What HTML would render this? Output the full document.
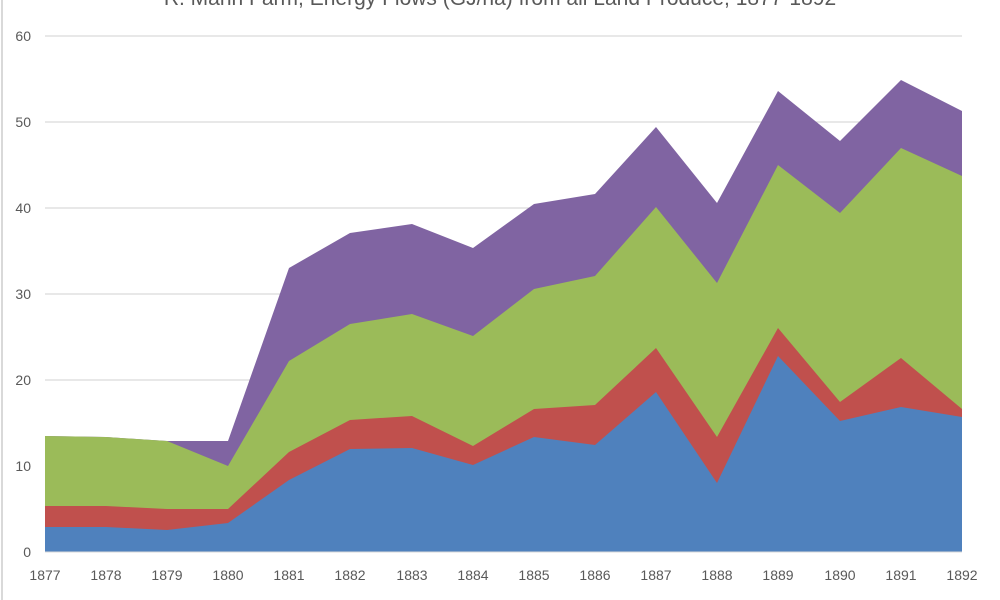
<!DOCTYPE html>
<html><head><meta charset="utf-8"><style>
body{margin:0;background:#fff;}
svg{display:block;font-family:"Liberation Sans",sans-serif;}
</style></head><body>
<svg width="1000" height="600" viewBox="0 0 1000 600">
<rect x="0" y="0" width="1000" height="600" fill="#fff"/>
<line x1="2" y1="0" x2="2" y2="600" stroke="#d9d9d9" stroke-width="2"/>
<text x="500" y="5" font-size="21" fill="#595959" text-anchor="middle">R. Mahn Farm, Energy Flows (GJ/ha) from all Land Produce, 1877-1892</text>
<g stroke="#d0d0d0" stroke-width="1">
<line x1="45" x2="962" y1="36" y2="36"/><line x1="45" x2="962" y1="122" y2="122"/>
<line x1="45" x2="962" y1="208" y2="208"/><line x1="45" x2="962" y1="294" y2="294"/>
<line x1="45" x2="962" y1="380" y2="380"/><line x1="45" x2="962" y1="466" y2="466"/>
</g>
<polygon fill="#8064a2" points="45,552 45,436 106,437 167,441 228,441 289,268 350,233 412,224 473,248 534,204 595,194 656,127 717,203 778,91 840,141 901,80 962,111 962,552"/>
<polygon fill="#9bbb59" points="45,552 45,436 106,437 167,441 228,466 289,361 350,324 412,314 473,336 534,289 595,276 656,207 717,283 778,165 840,213 901,148 962,176 962,552"/>
<polygon fill="#c0504d" points="45,552 45,506 106,506 167,509 228,509 289,452 350,420 412,416 473,446 534,409 595,405 656,348 717,437 778,328 840,402 901,358 962,409 962,552"/>
<polygon fill="#4f81bd" points="45,552 45,527 106,527 167,530 228,523 289,480 350,449 412,448 473,465 534,437 595,445 656,392 717,483 778,356 840,421 901,407 962,417 962,552"/>
<line x1="45" x2="962" y1="552" y2="552" stroke="#d9d9d9"/>
<g font-size="14" fill="#595959" text-anchor="end">
<text x="31" y="557">0</text><text x="31" y="471">10</text><text x="31" y="385">20</text>
<text x="31" y="299">30</text><text x="31" y="213">40</text><text x="31" y="127">50</text><text x="31" y="41">60</text>
</g>
<g font-size="14" fill="#595959" text-anchor="middle">
<text x="45" y="580">1877</text><text x="106" y="580">1878</text><text x="167" y="580">1879</text><text x="228" y="580">1880</text>
<text x="289" y="580">1881</text><text x="350" y="580">1882</text><text x="412" y="580">1883</text><text x="473" y="580">1884</text>
<text x="534" y="580">1885</text><text x="595" y="580">1886</text><text x="656" y="580">1887</text><text x="717" y="580">1888</text>
<text x="778" y="580">1889</text><text x="840" y="580">1890</text><text x="901" y="580">1891</text><text x="962" y="580">1892</text>
</g>
</svg>
</body></html>
